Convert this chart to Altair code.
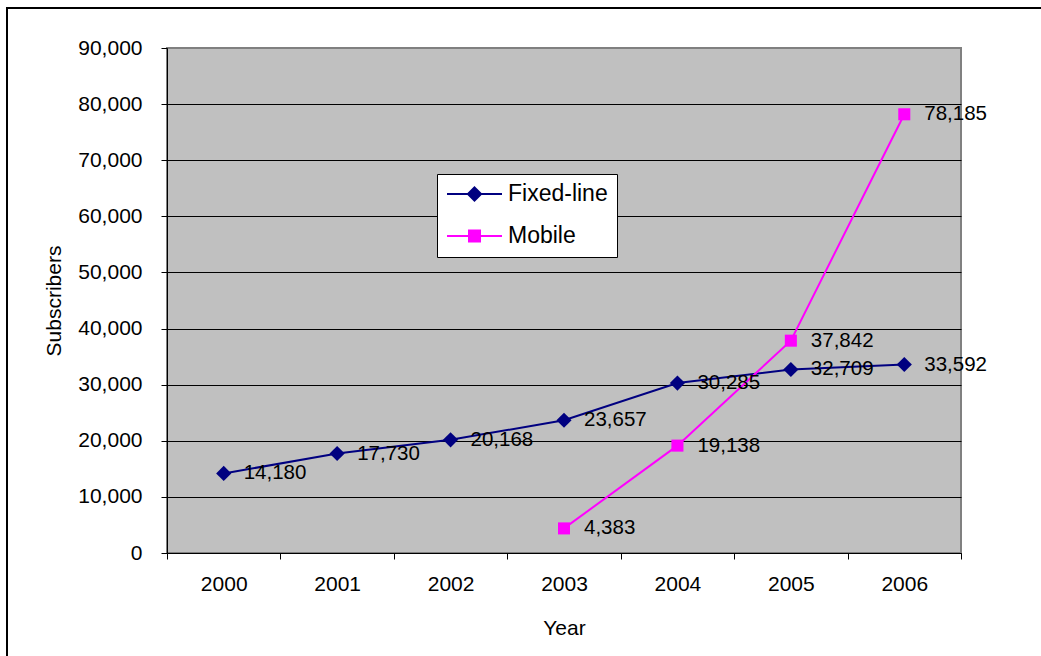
import altair as alt
import pandas as pd

# ---- data ----
years = ["2000", "2001", "2002", "2003", "2004", "2005", "2006"]
fixed_line = [14180, 17730, 20168, 23657, 30285, 32709, 33592]
mobile_years = ["2003", "2004", "2005", "2006"]
mobile = [4383, 19138, 37842, 78185]
series_names = ["Fixed-line", "Mobile"]
series_colors = ["#000080", "#FF00FF"]
y_ticks = [0, 10000, 20000, 30000, 40000, 50000, 60000, 70000, 80000, 90000]

rows = [{"year": y, "series": "Fixed-line", "value": v} for y, v in zip(years, fixed_line)]
rows += [{"year": y, "series": "Mobile", "value": v} for y, v in zip(mobile_years, mobile)]
df = pd.DataFrame(rows)

FONT = "Liberation Sans"

x_enc = alt.X(
    "year:O",
    scale=alt.Scale(type="band", domain=years, paddingInner=0, paddingOuter=0),
    axis=alt.Axis(
        title="Year", labelAngle=0, tickBand="extent", grid=False, tickSize=6,
        tickColor="black", domainColor="black", labelPadding=25, labelBaseline="middle",
        labelFontSize=21, labelFont=FONT, labelColor="black", titleFont=FONT,
        titleFontSize=21, titleFontWeight="normal", titleColor="black",
        titleBaseline="middle", titleY=75,
    ),
)
y_enc = alt.Y(
    "value:Q",
    scale=alt.Scale(domain=[0, 90000], nice=False),
    axis=alt.Axis(
        title="Subscribers", values=y_ticks, format=",d", grid=True,
        gridColor={"condition": {"test": "datum.value >= 90000", "value": "#808080"}, "value": "#000000"},
        gridWidth=1, gridOpacity=1, tickSize=6, tickColor="black", domainColor="black",
        labelPadding=19, labelFontSize=21, labelFont=FONT, labelColor="black",
        titleFont=FONT, titleFontSize=21, titleFontWeight="normal", titleColor="black",
        titleBaseline="middle", titleX=-113,
    ),
)

base = alt.Chart(df)

# outer chart-area border
frame = alt.Chart(pd.DataFrame({"a": [0]})).mark_rect(
    fillOpacity=0, stroke="black", strokeWidth=2
).encode(x=alt.value(-160), x2=alt.value(900), y=alt.value(-40), y2=alt.value(640))

legA = alt.Legend(title=None, orient="none", legendX=270, legendY=126, fillColor="white",
                  strokeColor="black", padding=9, labelFontSize=23, labelFont=FONT,
                  labelColor="black", clipHeight=22, rowPadding=19)

lines = base.mark_line(strokeWidth=2).encode(
    x=x_enc, y=y_enc,
    color=alt.Color("series:N", scale=alt.Scale(domain=series_names, range=series_colors), legend=legA),
    order=alt.Order("year:O"),
)

fixed_pts = base.transform_filter(alt.datum.series == series_names[0]).mark_point(
    shape="diamond", size=230, filled=True, opacity=1, color=series_colors[0]
).encode(x=x_enc, y=y_enc)

mobile_pts = base.transform_filter(alt.datum.series == series_names[1]).mark_point(
    shape="square", size=145, filled=True, opacity=1, color=series_colors[1]
).encode(x=x_enc, y=y_enc)

labels = base.mark_text(
    align="left", baseline="middle", dx=20, fontSize=20.5, font=FONT, color="black"
).encode(x=x_enc, y=y_enc, text=alt.Text("value:Q", format=","))

# legend symbol: a short line with the marker in the middle (merged into the legend above)
legend_paths = [
    "M-1,0L1,0M0,-0.24L0.24,0L0,0.24L-0.24,0Z",
    "M-1,0L1,0M-0.2,-0.2L0.2,-0.2L0.2,0.2L-0.2,0.2Z",
]
leg = alt.Legend(
    title=None, orient="none", legendX=270, legendY=126, fillColor="white",
    strokeColor="black", padding=9, symbolSize=3025, symbolStrokeWidth=2,
    symbolOpacity=1, labelOffset=5, labelFontSize=23, labelFont=FONT, labelColor="black",
)
legend_layer = base.mark_point(filled=True, opacity=0, strokeWidth=2).encode(
    x=x_enc, y=y_enc,
    fill=alt.Fill("series:N", scale=alt.Scale(domain=series_names, range=series_colors), legend=leg),
    stroke=alt.Stroke("series:N", scale=alt.Scale(domain=series_names, range=series_colors), legend=leg),
    shape=alt.Shape("series:N", scale=alt.Scale(domain=series_names, range=legend_paths), legend=leg),
)

chart = alt.layer(frame, lines, fixed_pts, mobile_pts, labels, legend_layer).properties(
    width=794, height=505,
    autosize=alt.AutoSizeParams(type="none"),
    padding={"left": 167, "top": 48, "right": 80, "bottom": 103},
    background="white",
).configure_view(fill="#C0C0C0", stroke="#808080", strokeWidth=2)

chart.save("out.html", embed_options={"renderer": "svg", "actions": False})
